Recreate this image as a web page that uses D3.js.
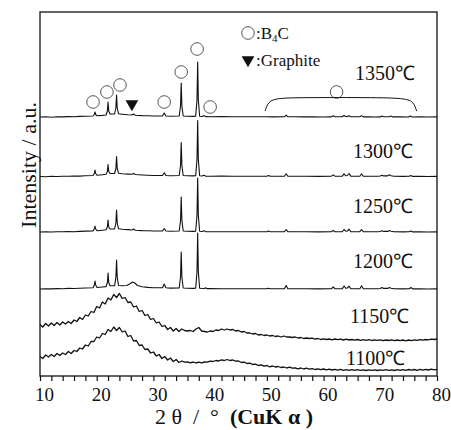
<!DOCTYPE html>
<html>
<head>
<meta charset="utf-8">
<script src="https://cdn.jsdelivr.net/npm/d3@7"></script>
<style>
  body { margin: 0; background: #fff; }
  svg text { font-family: "Liberation Serif", "Times New Roman", serif; fill: #111; }
</style>
</head>
<body>
<svg id="chart" width="451" height="430"></svg>
<script>
// temperatures, top to bottom
const temps = ['1350℃', '1300℃', '1250℃', '1200℃', '1150℃', '1100℃'];
// baseline of each pattern (counts)
const offsets = [2590, 1995, 1440, 870, 360, 60];

// crystalline patterns: [2theta, counts above baseline]
const p1350 = [[10,0],[11,2],[12,-2],[13,3],[14,1],[15,4],[16,3],[17,6],[18,8],[19.35,10],[19.58,25],[19.7,50],[19.82,25],[20.05,12],[21,16],[21.65,20],[21.88,60],[22.0,150],[22.12,60],[22.35,30],[23.15,30],[23.38,90],[23.5,220],[23.62,90],[23.85,32],[24.5,28],[25.5,22],[26.2,20],[26.5,30],[26.8,18],[28,14],[29,12],[30,10],[31.6,10],[31.9,40],[32.2,10],[33,8],[34.55,10],[34.78,110],[34.9,340],[35.02,110],[35.25,10],[36,7],[37,6],[37.45,8],[37.68,170],[37.8,550],[37.92,170],[38.15,8],[38.6,5],[38.9,14],[39.2,4],[40,3],[42,4],[44,2],[46,3],[48,2],[50,3],[51,1],[53.1,2],[53.4,18],[53.7,2],[55,3],[56.3,1],[58,2],[60,0],[61.4,1],[61.7,12],[62.0,3],[63.3,3],[63.6,15],[63.9,5],[64.2,4],[64.5,12],[64.8,2],[66.4,2],[66.7,14],[67.0,1],[68,2],[69,0],[70.0,1],[70.3,10],[70.6,2],[71.6,3],[71.9,9],[72.2,1],[73.5,2],[75.0,0],[75.3,9],[75.6,0],[77,2],[78.5,0],[80,1]];
const p1300 = [[10,0],[11,-2],[12,2],[13,0],[14,3],[15,2],[16,5],[17,4],[18,8],[19.35,10],[19.58,30],[19.7,65],[19.82,30],[20.05,12],[21,18],[21.65,22],[21.88,50],[22.0,120],[22.12,50],[22.35,30],[23.15,30],[23.38,80],[23.5,200],[23.62,80],[23.85,32],[24.5,28],[25.5,24],[26.2,22],[26.5,30],[26.8,20],[28,15],[29,12],[30,10],[31.6,10],[31.9,37],[32.2,10],[33,8],[34.55,10],[34.78,110],[34.9,340],[35.02,110],[35.25,10],[36,7],[37,6],[37.45,8],[37.68,170],[37.8,560],[37.92,170],[38.15,8],[38.6,5],[38.9,12],[39.2,4],[40,3],[42,4],[44,2],[46,3],[48,2],[50,3],[50.3,10],[50.6,2],[53.1,3],[53.4,27],[53.7,3],[55,2],[57,3],[59,1],[61.4,3],[61.7,17],[62.0,3],[63.3,4],[63.6,27],[63.9,8],[64.2,10],[64.5,30],[64.8,4],[66.4,3],[66.7,27],[67.0,3],[68,2],[69.5,2],[70.0,5],[70.3,13],[70.6,6],[71.3,6],[71.6,17],[71.9,8],[72.4,2],[74,1],[75.1,2],[75.4,10],[75.7,1],[77,2],[78.5,0],[80,1]];
const p1250 = [[10,0],[11,2],[12,0],[13,3],[14,2],[15,4],[16,3],[17,6],[18,9],[19.35,11],[19.58,30],[19.7,60],[19.82,30],[20.05,13],[21,18],[21.65,22],[21.88,50],[22.0,120],[22.12,50],[22.35,30],[23.15,30],[23.38,90],[23.5,220],[23.62,90],[23.85,32],[24.5,28],[25.5,24],[26.2,20],[26.5,30],[26.8,18],[28,14],[29,12],[30,10],[31.6,10],[31.9,35],[32.2,10],[33,8],[34.55,10],[34.78,115],[34.9,350],[35.02,115],[35.25,10],[36,7],[37,6],[37.45,8],[37.68,165],[37.8,540],[37.92,165],[38.15,8],[38.6,5],[38.9,12],[39.2,4],[40,3],[42,2],[44,3],[46,2],[48,3],[50,2],[50.3,9],[50.6,2],[53.1,3],[53.4,25],[53.7,3],[55,2],[57,3],[59,1],[61.4,3],[61.7,16],[62.0,3],[63.3,4],[63.6,25],[63.9,8],[64.2,10],[64.5,28],[64.8,4],[66.4,3],[66.7,25],[67.0,3],[68,2],[69.5,2],[70.0,5],[70.3,12],[70.6,6],[71.3,6],[71.6,15],[71.9,8],[72.4,2],[74,1],[75.1,2],[75.4,10],[75.7,1],[77,2],[78.5,0],[80,1]];
const p1200 = [[10,0],[11,3],[12,1],[13,4],[14,3],[15,6],[16,5],[17,8],[18,10],[19.35,12],[19.58,40],[19.7,80],[19.82,40],[20.05,15],[21,20],[21.65,24],[21.88,65],[22.0,160],[22.12,65],[22.35,32],[23.15,32],[23.38,115],[23.5,290],[23.62,115],[23.85,35],[24.5,32],[25.3,35],[25.8,50],[26.3,70],[26.7,60],[27.2,35],[28,22],[29,16],[30,13],[31.6,12],[31.9,50],[32.2,12],[33,9],[34.55,10],[34.78,120],[34.9,370],[35.02,120],[35.25,10],[36,7],[37,6],[37.45,8],[37.68,170],[37.8,560],[37.92,170],[38.15,8],[39.0,5],[39.2,12],[39.4,4],[40,4],[42,3],[44,2],[46,3],[48,2],[50,4],[50.3,8],[50.6,2],[53.1,3],[53.4,35],[53.7,3],[55,2],[57,3],[59,1],[61.4,3],[61.7,20],[62.0,3],[63.3,4],[63.6,30],[63.9,8],[64.2,10],[64.5,28],[64.8,4],[66.4,3],[66.7,32],[67.0,3],[68,2],[69.5,2],[70.0,5],[70.3,15],[70.6,6],[71.3,6],[71.6,15],[71.9,8],[72.4,2],[74,1],[75.1,2],[75.4,15],[75.7,1],[77,2],[78.5,0],[80,1]];

// amorphous patterns: counts above baseline, 2theta = 10, 10.5, ... 80
const step = 0.5;
const a1150 = [
  155,130,165,140,170,145,175,150,180,160,
  185,165,200,185,225,205,250,240,285,275,
  335,320,380,360,420,400,455,425,465,415,
  425,375,380,330,340,285,295,245,255,205,
  215,170,180,135,145,105,125,90,115,85,
  110,95,90,95,85,110,125,90,85,80,
  90,85,100,95,110,100,110,100,105,90,
  95,80,85,70,70,60,65,50,55,45,
  50,40,45,35,40,30,40,30,30,25,
  30,20,25,15,20,15,18,8,15,5,
  12,5,10,2,10,3,8,0,8,0,
  5,-2,5,-3,3,-3,4,-5,2,-4,
  2,-6,0,-5,2,-7,0,-6,0,-8,
  0,-6,2,-4,3,-2,5,2,8,5,
  10];
const a1100 = [
  135,115,150,130,155,135,165,145,170,155,
  185,165,195,185,220,210,250,240,285,285,
  330,320,365,355,405,385,430,395,425,380,
  390,335,345,290,295,245,250,205,210,170,
  180,140,155,115,135,100,120,85,105,75,
  90,78,82,72,80,70,78,72,80,78,
  88,85,95,90,102,95,105,95,100,88,
  90,75,78,65,68,55,58,45,52,38,
  45,32,40,30,35,25,30,20,28,18,
  22,12,20,10,18,8,14,5,12,3,
  10,2,8,0,7,-2,6,-3,4,-4,
  4,-3,3,-4,2,-5,2,-4,1,-5,
  2,-4,3,-3,2,-5,3,-4,4,-3,
  5,-2,5,-3,6,-2,7,0,8,2,
  7];

// phase markers above the 1350 pattern: [2theta, counts above its baseline]
const b4cMarks = [[19.35,150],[21.8,250],[24.1,320],[31.9,150],[34.9,450],[37.7,680],[40.0,100],[62.3,250]];
const graphiteMarks = [[26.2,130]];
const bracePts = [[49.7,60],[50.2,150],[51.5,185],[55,195],[70,195],[74.5,185],[75.9,150],[76.4,60]];

const xTicks = d3.range(10, 81, 2);

const svg = d3.select('#chart');
const plotL = 40, plotR = 437, plotT = 12, plotB = 376;

const x = d3.scaleLinear().domain([10, 80]).range([plotL, plotR]);
const y = d3.scaleLinear().domain([0, 3640]).range([plotB, plotT]);

const patterns = [p1350, p1300, p1250, p1200,
  a1150.map((v, i) => [10 + i * step, v]),
  a1100.map((v, i) => [10 + i * step, v])];

const line = d3.line().x(d => x(d[0]));

patterns.forEach((pts, i) => {
  svg.append('path')
    .attr('d', line.y(d => y(offsets[i] + d[1]))(pts))
    .attr('fill', 'none')
    .attr('stroke', '#111')
    .attr('stroke-width', i > 3 ? 1.3 : 1.1)
    .attr('stroke-linejoin', 'round');
});

// temperature labels (layout only)
const labelX = [355, 353, 353, 353, 350, 346];
const labelY = [80, 158, 213, 268, 323, 365];
temps.forEach((t, i) => {
  svg.append('text')
    .attr('x', labelX[i]).attr('y', labelY[i])
    .attr('font-size', 20)
    .text(t);
});

// markers
const base = offsets[0];
svg.selectAll('.b4c').data(b4cMarks).enter().append('circle')
  .attr('cx', d => x(d[0])).attr('cy', d => y(base + d[1]))
  .attr('r', 6.3).attr('fill', 'none').attr('stroke', '#555').attr('stroke-width', 1);

const tri = d3.symbol().type(d3.symbolTriangle).size(70);
svg.selectAll('.gr').data(graphiteMarks).enter().append('path')
  .attr('d', tri)
  .attr('transform', d => `translate(${x(d[0])},${y(base + d[1])}) rotate(180)`)
  .attr('fill', '#111');

svg.append('path')
  .attr('d', d3.line().curve(d3.curveBasis).x(d => x(d[0])).y(d => y(base + d[1]))(bracePts))
  .attr('fill', 'none').attr('stroke', '#111').attr('stroke-width', 1);

// legend
svg.append('circle').attr('cx', 248).attr('cy', 33).attr('r', 6.3)
  .attr('fill', 'none').attr('stroke', '#555');
let lt = svg.append('text').attr('x', 256).attr('y', 39).attr('font-size', 17);
lt.append('tspan').text(':B');
lt.append('tspan').attr('font-size', 11).attr('dy', 3).text('4');
lt.append('tspan').attr('dy', -3).text('C');
svg.append('path').attr('d', tri)
  .attr('transform', 'translate(248,60) rotate(180)').attr('fill', '#111');
svg.append('text').attr('x', 256).attr('y', 66).attr('font-size', 17).text(':Graphite');

// frame
svg.append('rect')
  .attr('x', plotL).attr('y', plotT)
  .attr('width', plotR - plotL).attr('height', plotB - plotT)
  .attr('fill', 'none').attr('stroke', '#111').attr('stroke-width', 1.3);

// x axis
const xAxis = d3.axisBottom(x)
  .tickValues(xTicks)
  .tickSize(5)
  .tickPadding(7)
  .tickFormat(d => d % 10 === 0 ? d : '');
const gx = svg.append('g').attr('transform', `translate(0,${plotB})`).call(xAxis);
gx.select('.domain').remove();
gx.selectAll('line').attr('stroke', '#111').attr('stroke-width', 1.2);
gx.selectAll('text')
  .attr('font-size', 19)
  .attr('font-family', '"Liberation Serif", "Times New Roman", serif')
  .attr('fill', '#111')
  .attr('dx', 4);

// axis titles
const xt = svg.append('text')
  .attr('x', 234).attr('y', 424)
  .attr('text-anchor', 'middle')
  .attr('font-size', 22);
xt.append('tspan').attr('xml:space', 'preserve').text('2 θ  /  °  ');
xt.append('tspan').attr('font-weight', 'bold').text('(CuK α )');

svg.append('text')
  .attr('transform', 'translate(36,165) rotate(-90)')
  .attr('text-anchor', 'middle')
  .attr('font-size', 22)
  .text('Intensity / a.u.');
</script>
</body>
</html>
